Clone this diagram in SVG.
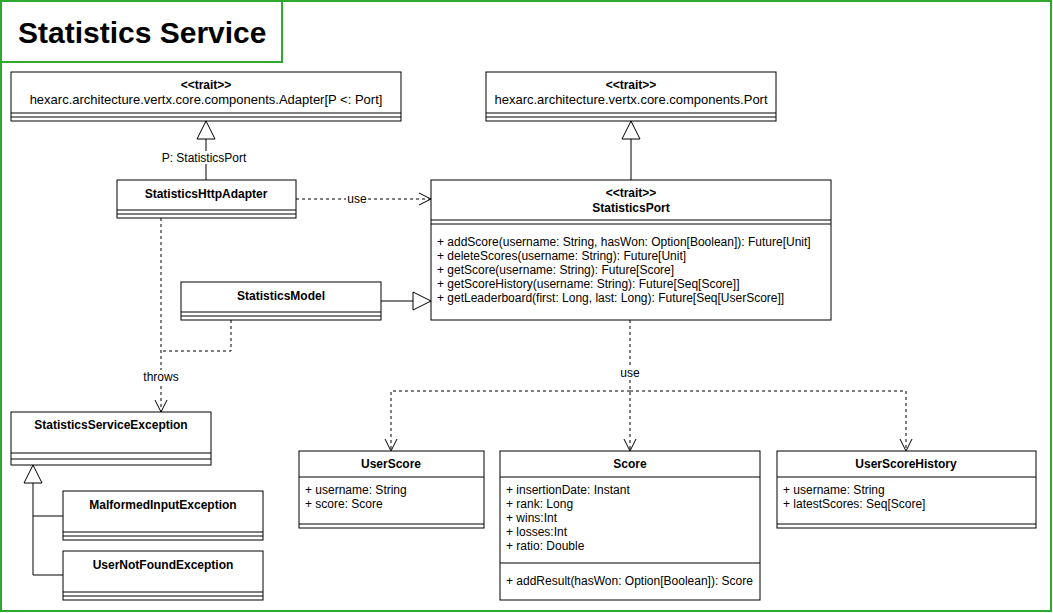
<svg xmlns="http://www.w3.org/2000/svg" width="1053" height="613" viewBox="0 0 1053 613">
<defs>
<style>
.frame{fill:none;stroke:#2ea82e;stroke-width:2}
.box{fill:#fff;stroke:#000;stroke-width:1}
.ln{stroke:#000;stroke-width:1;fill:none}
.dash{stroke:#000;stroke-width:1;fill:none;stroke-dasharray:3 3}
.t{font-family:"Liberation Sans",Arial,sans-serif;font-size:12px;fill:#000}
.big{font-size:13px}
.b{font-weight:bold}
.m{text-anchor:middle}
.title{font-family:"Liberation Sans",Arial,sans-serif;font-size:30px;font-weight:bold;fill:#000}
</style>
<marker id="open" viewBox="0 0 14 14" refX="13" refY="7" markerWidth="14" markerHeight="14" markerUnits="userSpaceOnUse" orient="auto">
<path d="M1,1 L13,7 L1,13" fill="none" stroke="#000" stroke-width="1"/>
</marker>
<marker id="tri" viewBox="0 0 20 20" refX="19" refY="10" markerWidth="20" markerHeight="20" markerUnits="userSpaceOnUse" orient="auto">
<path d="M1,1 L19,10 L1,19 Z" fill="#fff" stroke="#000" stroke-width="1"/>
</marker>
</defs>
<rect x="0" y="0" width="1053" height="613" fill="#fff"/>
<rect class="frame" x="1" y="1" width="1050" height="610"/>
<g id="title">
<rect class="frame" x="1" y="1" width="281" height="61" fill="#fff"/>
<text class="title" x="18" y="43">Statistics Service</text>
</g>

<g id="connectors">
<path class="ln" d="M206,180 L206,121" marker-end="url(#tri)"/>
<rect x="160" y="151" width="90" height="13" fill="#fff"/>
<text class="t m" x="204" y="162">P: StatisticsPort</text>
<path class="ln" d="M631,180 L631,121" marker-end="url(#tri)"/>
<path class="dash" d="M296,199 L431,199" marker-end="url(#open)"/>
<rect x="346" y="192" width="22" height="13" fill="#fff"/>
<text class="t m" x="357" y="203">use</text>
<path class="ln" d="M381,301 L431,301" marker-end="url(#tri)"/>
<path class="dash" d="M161,218 L161,412" marker-end="url(#open)"/>
<path class="dash" d="M231,320 L231,351 L161,351"/>
<rect x="142" y="370" width="38" height="13" fill="#fff"/>
<text class="t m" x="161" y="381">throws</text>
<path class="ln" d="M33,575 L33,465" marker-end="url(#tri)"/>
<path class="ln" d="M33,516 L63,516"/>
<path class="ln" d="M33,575 L63,575"/>
<path class="dash" d="M630,320 L630,451" marker-end="url(#open)"/>
<path class="dash" d="M630,391 L391,391 L391,451" marker-end="url(#open)"/>
<path class="dash" d="M630,391 L906,391 L906,451" marker-end="url(#open)"/>
<rect x="618" y="366" width="24" height="13" fill="#fff"/>
<text class="t m" x="630" y="377">use</text>
</g>

<g id="AdapterTrait">
<rect class="box" x="11" y="72" width="390" height="49"/>
<path class="ln" d="M11,113 H401 M11,117 H401"/>
<text class="t m b" x="206" y="89">&lt;&lt;trait&gt;&gt;</text>
<text class="t big m" x="206" y="104">hexarc.architecture.vertx.core.components.Adapter[P &lt;: Port]</text>
</g>

<g id="PortTrait">
<rect class="box" x="486" y="72" width="290" height="49"/>
<path class="ln" d="M486,113 H776 M486,117 H776"/>
<text class="t m b" x="631" y="89">&lt;&lt;trait&gt;&gt;</text>
<text class="t big m" x="631" y="104">hexarc.architecture.vertx.core.components.Port</text>
</g>

<g id="StatisticsHttpAdapter">
<rect class="box" x="117" y="180" width="179" height="38"/>
<path class="ln" d="M117,210 H296 M117,214 H296"/>
<text class="t m b" x="206" y="198">StatisticsHttpAdapter</text>
</g>

<g id="StatisticsPort">
<rect class="box" x="431" y="180" width="400" height="140"/>
<path class="ln" d="M431,220 H831 M431,224 H831"/>
<text class="t m b" x="631" y="197">&lt;&lt;trait&gt;&gt;</text>
<text class="t m b" x="631" y="212">StatisticsPort</text>
<text class="t" x="437" y="246">+ addScore(username: String, hasWon: Option[Boolean]): Future[Unit]</text>
<text class="t" x="437" y="260">+ deleteScores(username: String): Future[Unit]</text>
<text class="t" x="437" y="274">+ getScore(username: String): Future[Score]</text>
<text class="t" x="437" y="288">+ getScoreHistory(username: String): Future[Seq[Score]]</text>
<text class="t" x="437" y="302">+ getLeaderboard(first: Long, last: Long): Future[Seq[UserScore]]</text>
</g>

<g id="StatisticsModel">
<rect class="box" x="181" y="282" width="200" height="38"/>
<path class="ln" d="M181,312 H381 M181,316 H381"/>
<text class="t m b" x="281" y="300">StatisticsModel</text>
</g>

<g id="StatisticsServiceException">
<rect class="box" x="11" y="412" width="200" height="53"/>
<path class="ln" d="M11,453 H211 M11,459 H211"/>
<text class="t m b" x="111" y="429">StatisticsServiceException</text>
</g>

<g id="MalformedInputException">
<rect class="box" x="63" y="491" width="200" height="49"/>
<path class="ln" d="M63,532 H263 M63,536 H263"/>
<text class="t m b" x="163" y="509">MalformedInputException</text>
</g>

<g id="UserNotFoundException">
<rect class="box" x="63" y="551" width="200" height="49"/>
<path class="ln" d="M63,592 H263 M63,596 H263"/>
<text class="t m b" x="163" y="569">UserNotFoundException</text>
</g>

<g id="UserScore">
<rect class="box" x="299" y="451" width="185" height="77"/>
<path class="ln" d="M299,477 H484 M299,524 H484"/>
<text class="t m b" x="391" y="468">UserScore</text>
<text class="t" x="305" y="494">+ username: String</text>
<text class="t" x="305" y="508">+ score: Score</text>
</g>

<g id="Score">
<rect class="box" x="500" y="451" width="260" height="149"/>
<path class="ln" d="M500,477 H760 M500,563 H760"/>
<text class="t m b" x="630" y="468">Score</text>
<text class="t" x="506" y="494">+ insertionDate: Instant</text>
<text class="t" x="506" y="508">+ rank: Long</text>
<text class="t" x="506" y="522">+ wins:Int</text>
<text class="t" x="506" y="536">+ losses:Int</text>
<text class="t" x="506" y="550">+ ratio: Double</text>
<text class="t" x="506" y="585">+ addResult(hasWon: Option[Boolean]): Score</text>
</g>

<g id="UserScoreHistory">
<rect class="box" x="777" y="451" width="259" height="77"/>
<path class="ln" d="M777,477 H1036 M777,524 H1036"/>
<text class="t m b" x="906" y="468">UserScoreHistory</text>
<text class="t" x="783" y="494">+ username: String</text>
<text class="t" x="783" y="508">+ latestScores: Seq[Score]</text>
</g>
</svg>
